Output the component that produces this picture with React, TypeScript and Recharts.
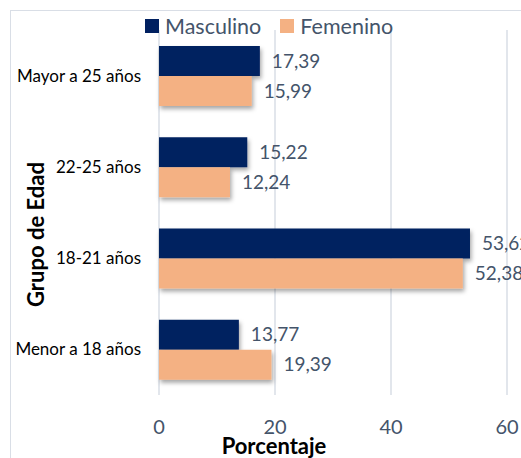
import { Bar, BarChart, CartesianGrid, LabelList, Legend, XAxis, YAxis } from 'recharts';

const grupos = ['Mayor a 25 años', '22-25 años', '18-21 años', 'Menor a 18 años'];
const masculino = [17.39, 15.22, 53.62, 13.77];
const femenino = [15.99, 12.24, 52.38, 19.39];
const xTicks = [0, 20, 40, 60];

const NAVY = '#002060';
const PEACH = '#f4b183';
const SLATE = '#44546a';
const FONT = 'Lato, "Open Sans", sans-serif';

const data = grupos.map((g, i) => ({ grupo: g, Masculino: masculino[i], Femenino: femenino[i] }));

const fmt = (v: any) => String(v).replace('.', ',');

function LegendBox() {
  const items = [
    { name: 'Masculino', color: NAVY },
    { name: 'Femenino', color: PEACH },
  ];
  return (
    <div style={{ display: 'flex', gap: 19, fontFamily: FONT, fontSize: 21.5, lineHeight: '26px', color: SLATE }}>
      {items.map((it) => (
        <div key={it.name} style={{ display: 'flex', alignItems: 'center', gap: 6 }}>
          <span style={{ width: 14, height: 14, background: it.color, display: 'inline-block' }} />
          <span>{it.name}</span>
        </div>
      ))}
    </div>
  );
}

export default function App() {
  return (
    <div style={{ position: 'fixed', left: 0, top: 0, width: 521, height: 458, overflow: 'hidden', background: '#fff' }}>
      <div
        style={{
          position: 'absolute',
          left: 10,
          top: 10,
          width: 600,
          height: 600,
          border: '1px solid #d9dee6',
        }}
      />
      <BarChart
        width={521}
        height={458}
        data={data}
        layout="vertical"
        margin={{ top: 30, right: 14, bottom: 0, left: 0 }}
        barGap={0}
        barSize={30}
        style={{ position: 'absolute', left: 0, top: 0 }}
      >
        <defs>
          <filter id="barShadow" x="-10%" y="-20%" width="130%" height="160%">
            <feDropShadow dx="1.5" dy="3" stdDeviation="2" floodColor="#000" floodOpacity="0.35" />
          </filter>
        </defs>
        <CartesianGrid horizontal={false} stroke="#d9dee6" strokeWidth={1.5} />
        <XAxis
          type="number"
          domain={[0, 60]}
          ticks={xTicks}
          axisLine={false}
          tickLine={false}
          tickSize={0}
          tickMargin={25}
          height={63}
          tick={{ fill: SLATE, fontSize: 20, fontFamily: FONT }}
          label={(props: any) => {
            const vb = props.viewBox;
            return (
              <text
                x={vb.x + vb.width / 2 - 59}
                y={vb.y + 59}
                textAnchor="middle"
                fontFamily={FONT}
                fontWeight={700}
                fontSize={22}
                fill="#000"
              >
                Porcentaje
              </text>
            );
          }}
        />
        <YAxis
          type="category"
          dataKey="grupo"
          width={159}
          axisLine={false}
          tickLine={false}
          tickSize={0}
          tickMargin={18}
          tick={{ fill: '#000', fontSize: 17, fontFamily: FONT }}
          label={(props: any) => {
            const vb = props.viewBox;
            const cx = vb.x + 35;
            const cy = vb.y + vb.height / 2 + 22;
            return (
              <text
                x={cx}
                y={cy}
                transform={`rotate(-90 ${cx} ${cy})`}
                textAnchor="middle"
                dominantBaseline="central"
                fontFamily={FONT}
                fontWeight={700}
                fontSize={22}
                fill="#000"
              >
                Grupo de Edad
              </text>
            );
          }}
        />
        <Legend
          verticalAlign="middle"
          align="center"
          layout="horizontal"
          wrapperStyle={{ top: 13, left: 145, width: 300 }}
          content={() => <LegendBox />}
        />
        <Bar dataKey="Masculino" fill={NAVY} isAnimationActive={false} filter="url(#barShadow)">
          <LabelList dataKey="Masculino" position="right" offset={12} formatter={fmt} fill={SLATE} fontSize={19} fontFamily={FONT} />
        </Bar>
        <Bar dataKey="Femenino" fill={PEACH} isAnimationActive={false} filter="url(#barShadow)">
          <LabelList dataKey="Femenino" position="right" offset={12} formatter={fmt} fill={SLATE} fontSize={19} fontFamily={FONT} />
        </Bar>
      </BarChart>
    </div>
  );
}
